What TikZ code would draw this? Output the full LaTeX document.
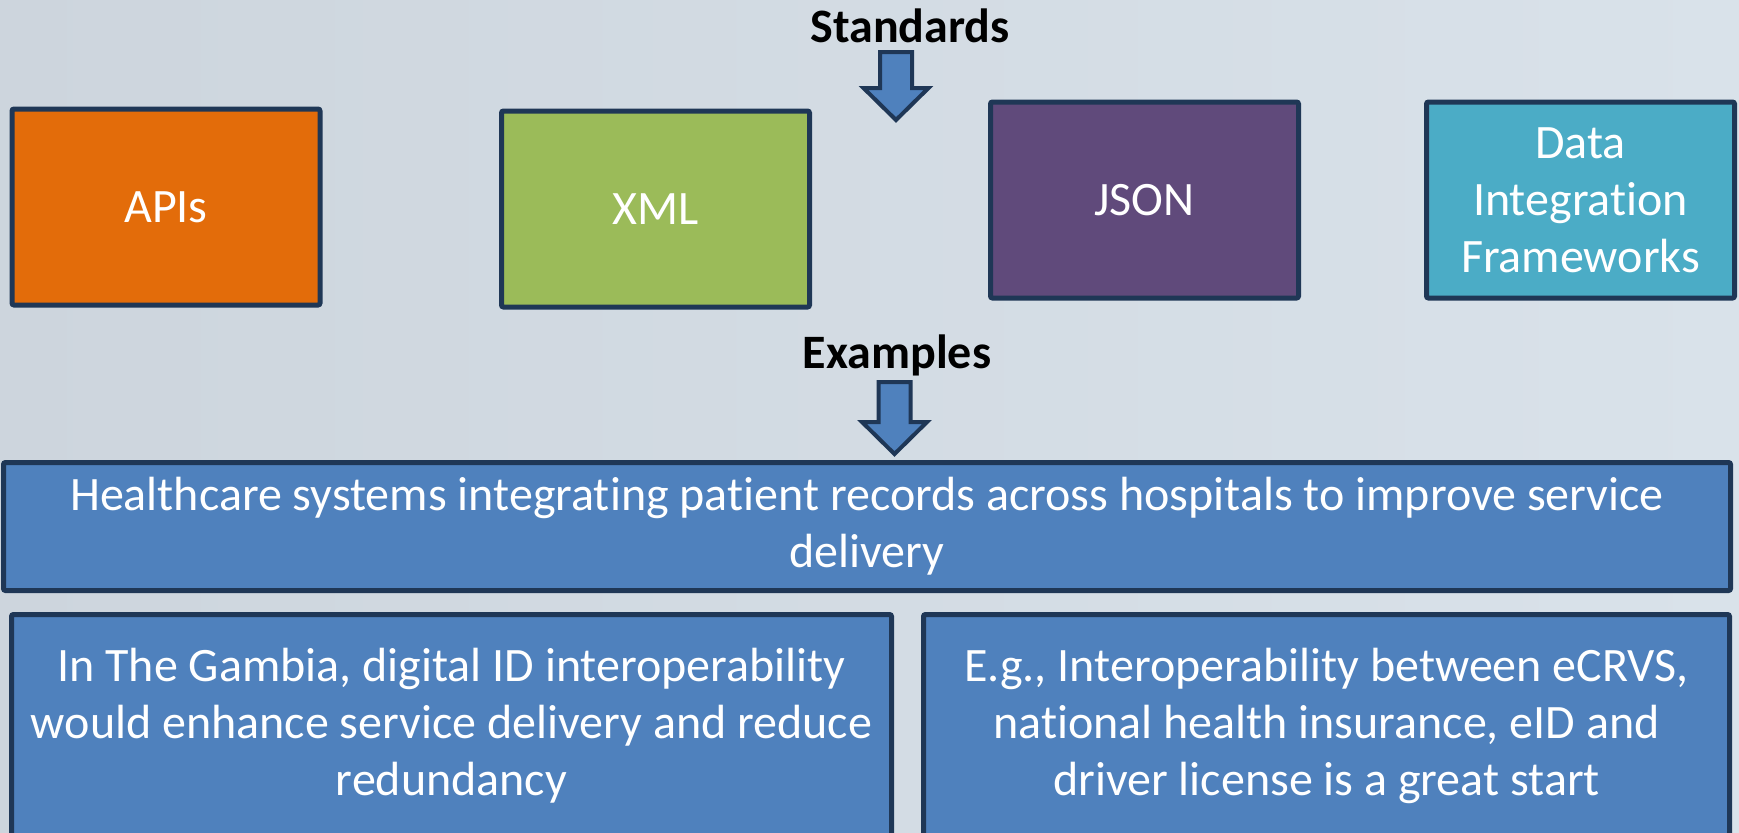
\documentclass[tikz,border=0pt]{standalone}
\usepackage{fontspec}
\setmainfont{Carlito}[Ligatures=NoCommon]
\usetikzlibrary{positioning}
\definecolor{sbgleft}{HTML}{CDD5DD}
\definecolor{sbgright}{HTML}{D9E2EA}
\definecolor{sedge}{HTML}{1F3756}
\definecolor{sorange}{HTML}{E36C0A}
\definecolor{sgreen}{HTML}{9BBB59}
\definecolor{spurple}{HTML}{604A7B}
\definecolor{steal}{HTML}{4BACC6}
\definecolor{sblue}{HTML}{4F81BD}
\tikzset{
  stdbox/.style={draw=sedge, line width=2.5pt, rounded corners=1pt, text=white,
                 align=center, font=\fontsize{24}{28.5}\selectfont, inner sep=2pt,
                 minimum width=154pt, minimum height=98pt},
  obox/.style={stdbox, fill=sorange},
  gbox/.style={stdbox, fill=sgreen},
  pbox/.style={stdbox, fill=spurple},
  tbox/.style={stdbox, fill=steal},
  bbox/.style={stdbox, fill=sblue},
  hlabel/.style={font=\fontsize{24}{28}\selectfont\bfseries, text=black, inner sep=0pt},
  blockarr/.style={draw=sedge, fill=sblue, line width=2pt, line join=miter},
  pics/dnarrow/.style={code={
    \draw[blockarr] (-16,0) -- (16,0) -- (16,#1) -- (32.5,#1) -- (0,{#1+32})
      -- (-32.5,#1) -- (-16,#1) -- cycle;}},
}

\begin{document}
\begin{tikzpicture}[x=0.5pt, y=-0.5pt]
  \useasboundingbox (0,0) rectangle (1739,832);
  \clip (0,0) rectangle (1739,832);
  \shade[left color=sbgleft, right color=sbgright] (0,0) rectangle (1739,832);

  % standards row
  \node[hlabel, anchor=base] (std) at (910,42) {Standards};
  \pic (stdarrow) at (896,52) {dnarrow=36};

  \node[obox] (apis) at (166,207) {APIs};
  \node[gbox] (xml) at (655.5,209) {XML};
  \node[pbox] (json) at (1144.5,200) {JSON};
  \node[tbox] (dif) at (1580.5,200) {Data\\Integration\\Frameworks};

  % examples
  \node[hlabel, anchor=base] (ex) at (897,368) {Examples};
  \pic (exarrow) at (894.5,382) {dnarrow=40};

  \node[bbox, minimum width=863.5pt, minimum height=64pt] (health) at (867,526.5)
    {Healthcare systems integrating patient records across hospitals to improve service\\delivery};
  \node[bbox, minimum width=440pt, minimum height=111.5pt] (gambia) at (451.5,726)
    {In The Gambia, digital ID interoperability\\would enhance service delivery and reduce\\redundancy};
  \node[bbox, minimum width=403pt, minimum height=111.5pt] (ecrvs) at (1326.5,726)
    {E.g., Interoperability between eCRVS,\\national health insurance, eID and\\driver license is a great start};
\end{tikzpicture}
\end{document}
